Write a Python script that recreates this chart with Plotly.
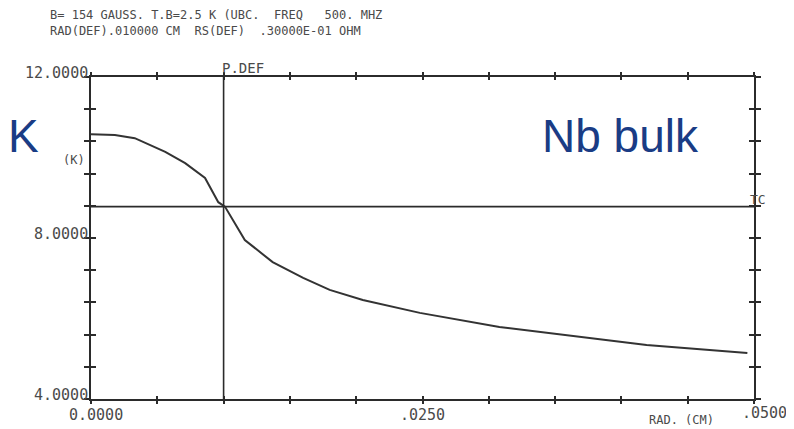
import plotly.graph_objects as go

# ---- data ----
rad_cm = [0.0000, 0.0018, 0.0033, 0.0056, 0.0071, 0.0086, 0.0096, 0.0101,
          0.0116, 0.0137, 0.0160, 0.0180, 0.0205, 0.0248, 0.0308, 0.0384,
          0.0419, 0.0495]
temp_k = [10.58, 10.56, 10.48, 10.14, 9.86, 9.49, 8.89, 8.78,
          7.95, 7.40, 7.01, 6.71, 6.46, 6.14, 5.79, 5.47,
          5.34, 5.14]
tc_k = 8.78
rad_def_cm = 0.010
x_range = [0.0, 0.05]
y_range = [4.0, 12.0]
y_tick_vals = [12.0, 8.0, 4.0]
y_tick_text = ["12.0000", "8.0000", "4.0000"]
x_tick_vals = [0.0, 0.025, 0.05]
x_tick_text = ["0.0000", ".0250", ".0500"]
title_lines = ["B= 154 GAUSS. T.B=2.5 K (UBC.  FREQ   500. MHZ",
               "RAD(DEF).010000 CM  RS(DEF)  .30000E-01 OHM"]

INK = "#2b2b2b"
TXT = "#4a4a4a"
MONO = "DejaVu Sans Mono"
BLUE = "#1a3c85"

# page offset (browser body margin) compensation
OFF = 8
L, R, T, B = 91 - OFF, 40, 77 - OFF, 30
W, H = 794 - OFF, 429 - OFF
PW, PH = W - L - R, H - T - B


def px_x(px):
    return (px - OFF - L) / PW


def px_y(py):
    return 1 - (py - OFF - T) / PH


fig = go.Figure()

fig.add_trace(go.Scatter(x=rad_cm, y=temp_k, mode="lines",
                         line=dict(color="#333333", width=2),
                         hoverinfo="skip", showlegend=False))
fig.add_trace(go.Scatter(x=x_range, y=[tc_k, tc_k], mode="lines",
                         line=dict(color=INK, width=1.6),
                         xaxis="x2", yaxis="y2",
                         hoverinfo="skip", showlegend=False))
fig.add_trace(go.Scatter(x=[rad_def_cm, rad_def_cm], y=y_range, mode="lines",
                         line=dict(color=INK, width=1.6),
                         xaxis="x2", yaxis="y2",
                         hoverinfo="skip", showlegend=False))

ax_common = dict(showgrid=False, zeroline=False, showticklabels=False,
                 showline=True, linecolor=INK, linewidth=1.6,
                 tickcolor=INK, tickwidth=1.6)

fig.update_layout(
    width=W, height=H,
    margin=dict(l=L, r=R, t=T, b=B),
    paper_bgcolor="white", plot_bgcolor="white",
    xaxis=dict(range=x_range, tick0=0, dtick=0.005, ticks="outside",
               ticklen=3, mirror="ticks", **ax_common),
    yaxis=dict(range=y_range, tick0=4, dtick=0.8, ticks="outside",
               ticklen=5, mirror="ticks", **ax_common),
    xaxis2=dict(range=x_range, tick0=0, dtick=0.005, ticks="inside",
                ticklen=3, mirror="ticks", overlaying="x", anchor="y2",
                side="bottom", **ax_common),
    yaxis2=dict(range=y_range, tick0=4, dtick=0.8, ticks="inside",
                ticklen=5, mirror="ticks", overlaying="y", anchor="x2",
                side="left", **ax_common),
)

ann = []
for v, t in zip(y_tick_vals, y_tick_text):
    ann.append(dict(x=0, xref="paper", y=v, yref="y", text=t,
                    xanchor="right", yanchor="middle", xshift=-1, yshift=4,
                    showarrow=False, font=dict(family=MONO, size=15, color=TXT)))
x_shifts = [5, 0, 10]
y_shifts = [-5, -5, -3]
for v, t, xs, ys in zip(x_tick_vals, x_tick_text, x_shifts, y_shifts):
    ann.append(dict(x=v, xref="x", y=0, yref="paper", text=t,
                    xanchor="center", yanchor="top", xshift=xs, yshift=ys,
                    showarrow=False, font=dict(family=MONO, size=15, color=TXT)))
ann.append(dict(x=px_x(681), xref="paper", y=px_y(420), yref="paper",
                text="RAD. (CM)", xanchor="center", yanchor="middle",
                showarrow=False, font=dict(family=MONO, size=12, color=TXT)))
ann.append(dict(x=px_x(74), xref="paper", y=px_y(160), yref="paper",
                text="(K)", xanchor="center", yanchor="middle",
                showarrow=False, font=dict(family=MONO, size=12, color=TXT)))
ann.append(dict(x=rad_def_cm, xref="x", y=1, yref="paper", text="P.DEF",
                xanchor="left", yanchor="bottom", xshift=-4, yshift=-1,
                showarrow=False, font=dict(family=MONO, size=14, color=TXT)))
ann.append(dict(x=1, xref="paper", y=tc_k, yref="y", text="TC",
                xanchor="left", yanchor="bottom", xshift=-6, yshift=-2,
                showarrow=False, font=dict(family=MONO, size=13, color=TXT)))
# header (two lines)
ann.append(dict(x=px_x(48), xref="paper", y=px_y(23), yref="paper",
                text="<br>".join(title_lines), xanchor="left",
                yanchor="middle", align="left", showarrow=False,
                font=dict(family=MONO, size=12, color=TXT)))
# blue overlay labels
ann.append(dict(x=px_x(6), xref="paper", y=px_y(136), yref="paper",
                text="K", xanchor="left", yanchor="middle",
                showarrow=False,
                font=dict(family="Liberation Sans, Arial", size=46, color=BLUE)))
ann.append(dict(x=px_x(540), xref="paper", y=px_y(136), yref="paper",
                text="Nb bulk", xanchor="left", yanchor="middle",
                showarrow=False,
                font=dict(family="Liberation Sans, Arial", size=46, color=BLUE)))

fig.update_layout(annotations=ann)
fig.write_html("out.html")
